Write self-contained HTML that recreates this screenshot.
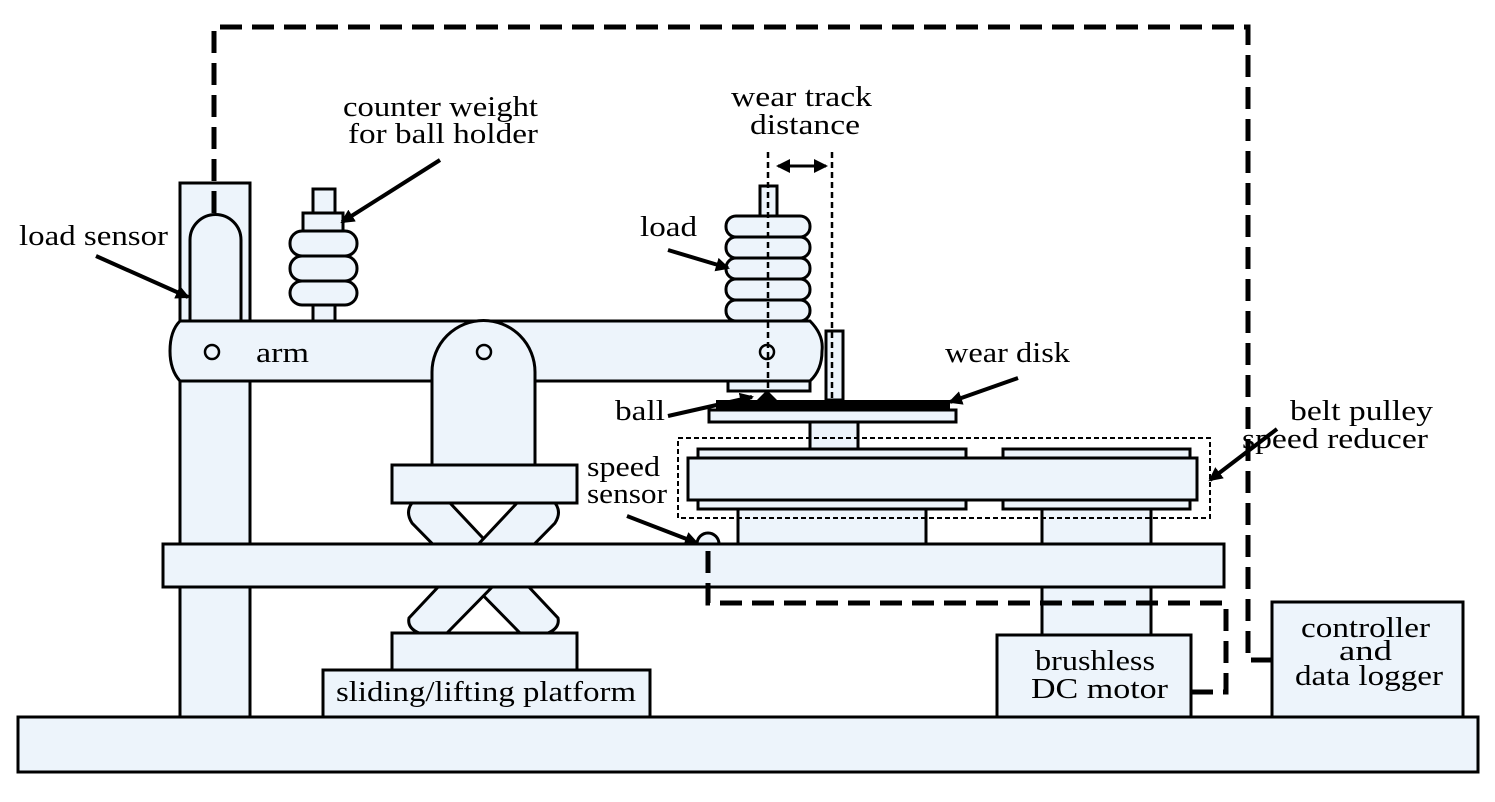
<!DOCTYPE html>
<html><head><meta charset="utf-8"><style>
body{margin:0;background:#fff}
svg text{font-family:"Liberation Serif",serif;font-size:29px;fill:#000}
</style></head><body>
<svg width="1495" height="797" viewBox="0 0 1495 797" xmlns="http://www.w3.org/2000/svg">
<defs>
<marker id="ah2" markerWidth="14" markerHeight="14" refX="12" refY="7" orient="auto-start-reverse" markerUnits="userSpaceOnUse"><path d="M0,0 L14,7 L0,14 z" fill="#000"/></marker></defs>
<g fill="#edf4fb" stroke="#000" stroke-width="3">
<rect x="18" y="717" width="1460" height="55"/>
<rect x="180" y="183" width="70" height="534"/>
<path d="M190,321 V240 A25.5,25.5 0 0 1 241,240 V321"/>
<rect x="313" y="189" width="22" height="132"/>
<rect x="303" y="213" width="40" height="18"/>
<rect x="290" y="231" width="67" height="25" rx="12"/>
<rect x="290" y="256" width="67" height="25" rx="12"/>
<rect x="290" y="281" width="67" height="24" rx="12"/>
<rect x="760" y="186" width="17" height="30"/>
<rect x="726" y="216" width="84" height="21" rx="10"/>
<rect x="726" y="237" width="84" height="21" rx="10"/>
<rect x="726" y="258" width="84" height="21" rx="10"/>
<rect x="726" y="279" width="84" height="21" rx="10"/>
<rect x="726" y="300" width="84" height="21" rx="10"/>
<path d="M180,321 H810 Q824,335 822,351 Q822,370 810,381 H180 Q170,370 170,351 Q170,331 180,321 Z"/>
<rect x="728" y="381" width="82" height="10"/>
<path d="M432,465 V372 A51.5,51.5 0 0 1 535,372 V465 Z"/>
<path d="M412,503 H450 L558,618 Q560,628 548,633 H520 L412,523 Q405,512 412,503 Z"/>
<path d="M555,503 H517 L409,618 Q407,628 419,633 H447 L555,523 Q562,512 555,503 Z"/>
<rect x="392" y="465" width="185" height="38"/>
<rect x="392" y="633" width="185" height="37"/>
<rect x="323" y="670" width="327" height="47"/>
<rect x="826" y="331" width="17" height="69"/>
<rect x="709" y="410" width="247" height="12"/>
<rect x="810" y="422" width="48" height="28"/>
<rect x="738" y="509" width="188" height="35"/>
<rect x="1042" y="509" width="109" height="35"/>
<rect x="1042" y="587" width="109" height="48"/>
<rect x="698" y="449" width="268" height="60"/>
<rect x="1003" y="449" width="187" height="60"/>
<rect x="688" y="458" width="509" height="42"/>
<rect x="163" y="544" width="1061" height="43"/>
<path d="M697,544 A11,11 0 0 1 719,544 Z"/>
<rect x="997" y="635" width="194" height="82"/>
<rect x="1272" y="602" width="191" height="115"/>
</g>
<rect x="716" y="400" width="234" height="10" fill="#000"/>
<path d="M757,400 L767,390 L777,400 Z" fill="#000"/>
<g fill="none" stroke="#000" stroke-width="2.5">
<circle cx="212" cy="352" r="7"/><circle cx="484" cy="352" r="7"/><circle cx="767" cy="352" r="7"/>
</g>
<g fill="none" stroke="#000" stroke-width="2.5" stroke-dasharray="6,4">
<line x1="768" y1="152" x2="768" y2="400"/>
<line x1="832" y1="152" x2="832" y2="400"/>
<rect x="678" y="438" width="532" height="80" stroke-width="2" stroke-dasharray="5,3"/>
</g>
<g fill="none" stroke="#000" stroke-width="5" stroke-dasharray="22,10">
<path d="M214,213 V27 H1248 V660 H1272"/>
<path d="M1191,692 H1226 V603 H708 V544"/>
</g>
<line x1="778" y1="166" x2="826" y2="166" stroke="#000" stroke-width="3" marker-start="url(#ah2)" marker-end="url(#ah2)"/>
<g stroke="#000" stroke-width="4" fill="none" marker-end="url(#ah2)">
<line x1="96" y1="256" x2="188" y2="297"/>
<line x1="440" y1="160" x2="342" y2="222"/>
<line x1="668" y1="250" x2="728" y2="268"/>
<line x1="668" y1="416" x2="752" y2="397"/>
<line x1="1018" y1="378" x2="950" y2="402"/>
<line x1="627" y1="516" x2="697" y2="543"/>
<line x1="1277" y1="429" x2="1210" y2="480"/>
</g>
<g lengthAdjust="spacingAndGlyphs">
<text x="343" y="116" textLength="195" lengthAdjust="spacingAndGlyphs">counter weight</text>
<text x="348" y="143" textLength="190" lengthAdjust="spacingAndGlyphs">for ball holder</text>
<text x="731" y="106" textLength="141" lengthAdjust="spacingAndGlyphs">wear track</text>
<text x="750" y="134" textLength="110" lengthAdjust="spacingAndGlyphs">distance</text>
<text x="19" y="245" textLength="149" lengthAdjust="spacingAndGlyphs">load sensor</text>
<text x="640" y="236" textLength="57" lengthAdjust="spacingAndGlyphs">load</text>
<text x="256" y="362" textLength="53" lengthAdjust="spacingAndGlyphs">arm</text>
<text x="945" y="362" textLength="125" lengthAdjust="spacingAndGlyphs">wear disk</text>
<text x="615" y="420" textLength="50" lengthAdjust="spacingAndGlyphs">ball</text>
<text x="1290" y="420" textLength="143" lengthAdjust="spacingAndGlyphs">belt pulley</text>
<text x="1242" y="448" textLength="186" lengthAdjust="spacingAndGlyphs">speed reducer</text>
<text x="587" y="476" textLength="73" lengthAdjust="spacingAndGlyphs">speed</text>
<text x="587" y="503" textLength="80" lengthAdjust="spacingAndGlyphs">sensor</text>
<text x="336" y="701" textLength="300" lengthAdjust="spacingAndGlyphs">sliding/lifting platform</text>
<text x="1035" y="670" textLength="120" lengthAdjust="spacingAndGlyphs">brushless</text>
<text x="1031" y="698" textLength="137" lengthAdjust="spacingAndGlyphs">DC motor</text>
<text x="1301" y="637" textLength="129" lengthAdjust="spacingAndGlyphs">controller</text>
<text x="1339" y="660" textLength="53" lengthAdjust="spacingAndGlyphs">and</text>
<text x="1295" y="685" textLength="148" lengthAdjust="spacingAndGlyphs">data logger</text>
</g>
</svg>
</body></html>
